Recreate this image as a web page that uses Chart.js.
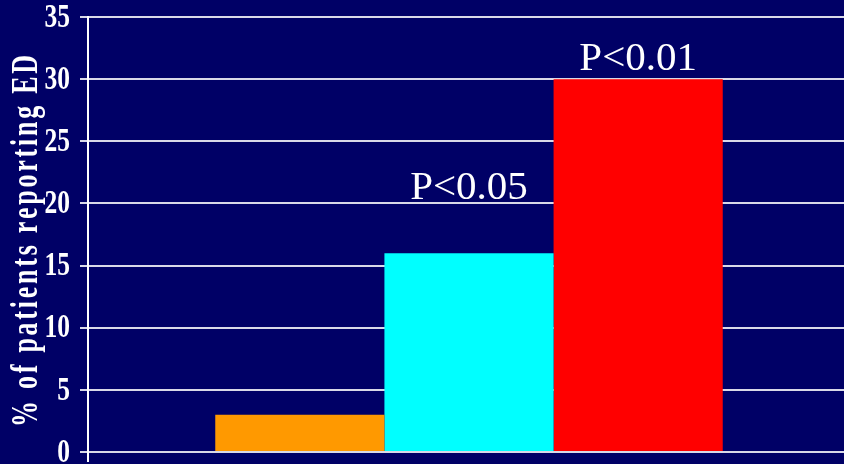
<!DOCTYPE html>
<html>
<head>
<meta charset="utf-8">
<script src="https://cdn.jsdelivr.net/npm/chart.js@4"></script>
<style>
  body { margin: 0; background: #000066; overflow: hidden; }
  #wrap { width: 844px; height: 464px; overflow: hidden; }
</style>
</head>
<body>
<div id="wrap"><canvas id="myChart" width="850" height="464"></canvas></div>
<script>
// data
const groups = ['Group 1', 'Group 2', 'Group 3'];
const values = [3, 16, 30];
const pLabels = ['', 'P<0.05', 'P<0.01'];
const yTicks = [0, 5, 10, 15, 20, 25, 30, 35];
const yTitle = '% of patients reporting ED';

const barColors = ['#ff9900', '#00ffff', '#ff0000'];
const labelLift = [0, 54, 9]; // px between bar top and text baseline

// narrow bold serif for the y axis (ticks + title)
const yAxisText = {
  id: 'yAxisText',
  afterDraw(chart) {
    const ctx = chart.ctx;
    const y = chart.scales.y;
    ctx.save();
    ctx.fillStyle = '#ffffff';
    ctx.textAlign = 'right';
    ctx.textBaseline = 'middle';
    ctx.font = 'bold 34px "Liberation Serif"';
    yTicks.forEach(t => {
      const py = y.getPixelForValue(t);
      ctx.save();
      ctx.translate(70, py + 1);
      ctx.scale(0.75, 1);
      ctx.fillText(String(t), 0, 0);
      ctx.restore();
    });

    // rotated title, squeezed glyphs with extra spacing, 372px long
    const sx = 0.7, span = 372;
    ctx.font = 'bold 37px "Liberation Serif"';
    ctx.textAlign = 'left';
    ctx.textBaseline = 'alphabetic';
    const chars = [...yTitle];
    const widths = chars.map(c => ctx.measureText(c).width * sx);
    const gap = (span - widths.reduce((a, b) => a + b, 0)) / (chars.length - 1);
    ctx.save();
    ctx.translate(37, 241 + span / 2);
    ctx.rotate(-Math.PI / 2);
    let pos = 0;
    chars.forEach((c, i) => {
      ctx.save();
      ctx.translate(pos, 0);
      ctx.scale(sx, 1);
      ctx.fillText(c, 0, 0);
      ctx.restore();
      pos += widths[i] + gap;
    });
    ctx.restore();
    ctx.restore();
  }
};

// P value text over the bars
const pText = {
  id: 'pText',
  afterDatasetsDraw(chart) {
    const ctx = chart.ctx;
    ctx.save();
    ctx.fillStyle = '#ffffff';
    ctx.textAlign = 'center';
    ctx.textBaseline = 'alphabetic';
    ctx.font = '41px "Liberation Serif"';
    pLabels.forEach((txt, i) => {
      if (!txt) return;
      const bar = chart.getDatasetMeta(i).data[0];
      ctx.fillText(txt, bar.x, bar.y - labelLift[i]);
    });
    ctx.restore();
  }
};

const ctx = document.getElementById('myChart');
new Chart(ctx, {
  type: 'bar',
  data: {
    labels: [''],
    datasets: groups.map((g, i) => ({
      label: g,
      data: [values[i]],
      backgroundColor: barColors[i],
      borderWidth: 0,
      categoryPercentage: 0.666,
      barPercentage: 1
    }))
  },
  options: {
    responsive: false,
    animation: false,
    layout: { padding: { top: 17, right: 0, bottom: 0, left: 0 } },
    plugins: {
      legend: { display: false },
      tooltip: { enabled: false }
    },
    scales: {
      x: {
        ticks: { display: false },
        grid: { display: true, drawOnChartArea: false, tickLength: 10, color: '#ffffff', lineWidth: 2 },
        border: { display: false },
        afterFit: s => { s.height = 12; }
      },
      y: {
        min: 0,
        max: 35,
        ticks: { display: false, stepSize: 5 },
        grid: { color: 'rgba(255,255,255,0.85)', lineWidth: 2, tickLength: 8 },
        border: { color: '#ffffff', width: 2 },
        afterFit: s => { s.width = 88; }
      }
    }
  },
  plugins: [yAxisText, pText]
});
</script>
</body>
</html>
